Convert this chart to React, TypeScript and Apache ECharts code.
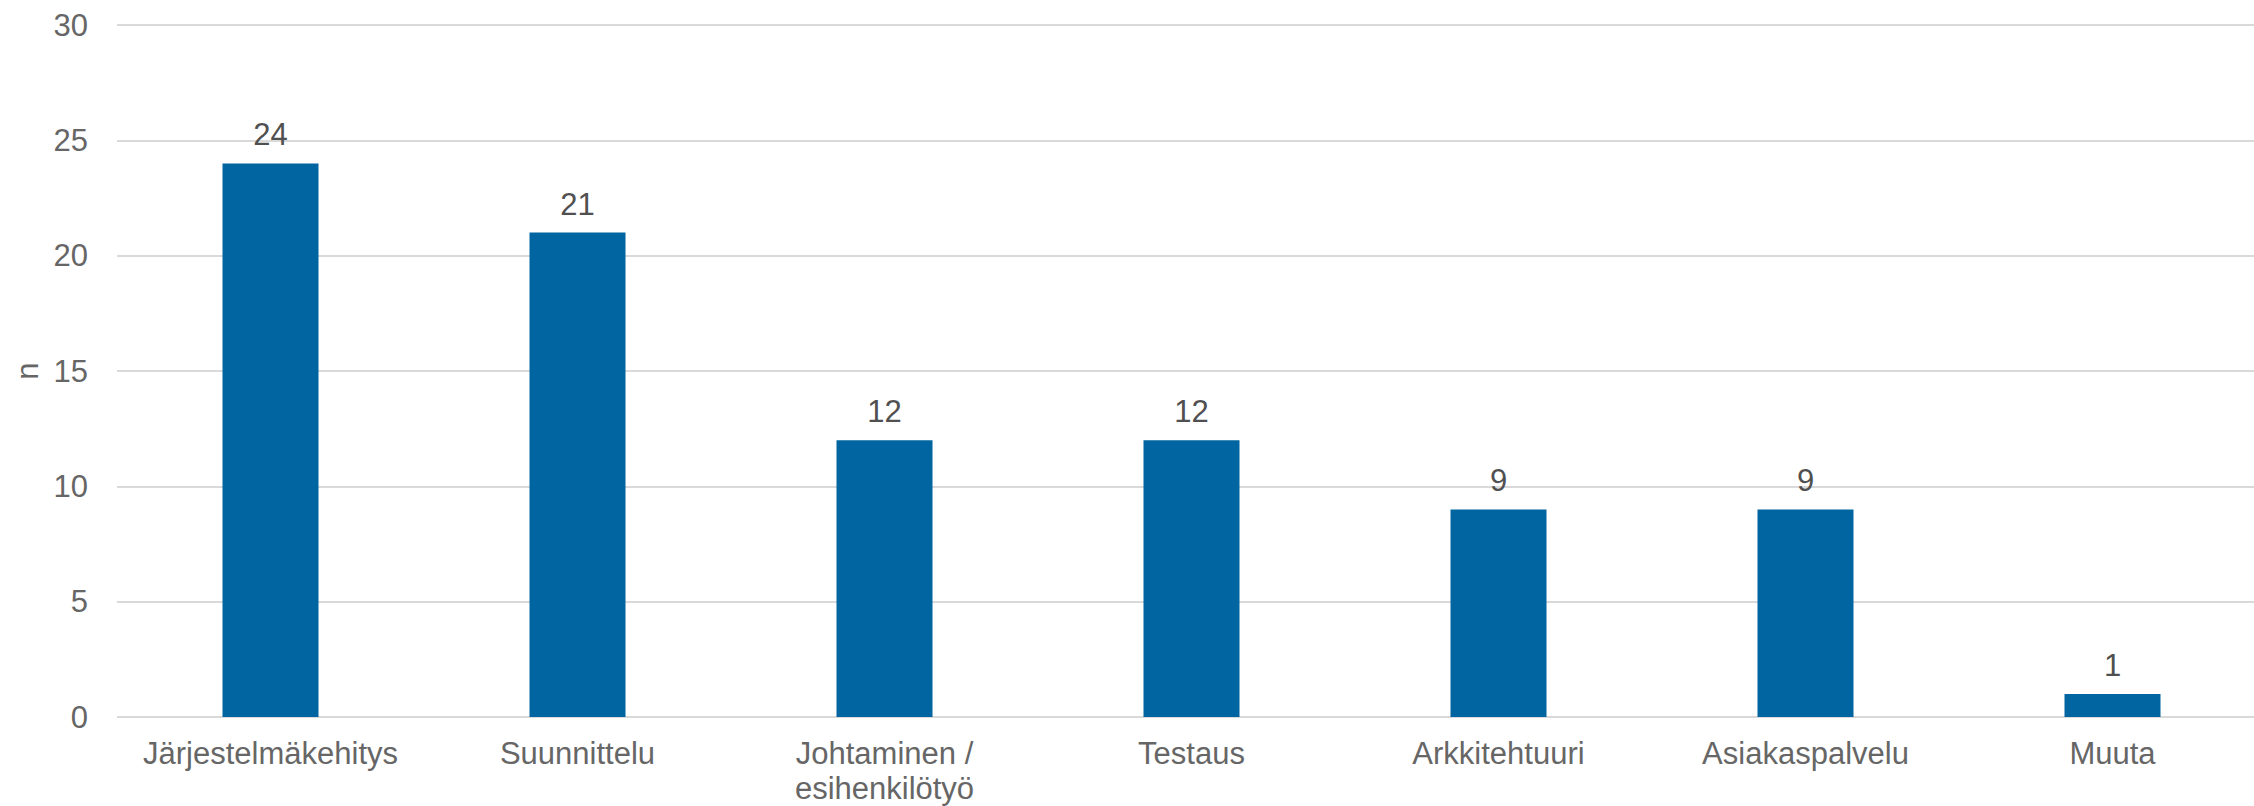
import React, { useEffect, useRef } from "react";
import * as echarts from "echarts";

const categories = [
  "Järjestelmäkehitys",
  "Suunnittelu",
  "Johtaminen /\nesihenkilötyö",
  "Testaus",
  "Arkkitehtuuri",
  "Asiakaspalvelu",
  "Muuta",
];
const values = [24, 21, 12, 12, 9, 9, 1];
const yAxisName = "n";

export default function App() {
  const ref = useRef<HTMLDivElement>(null);
  useEffect(() => {
    if (!ref.current) return;
    const chart = echarts.init(ref.current, null, { renderer: "svg" });
    const font = "Liberation Sans, Arial, sans-serif";
    chart.setOption({
      animation: false,
      backgroundColor: "#ffffff",
      grid: {
        left: 117,
        right: -12,
        top: 25,
        bottom: 89,
        containLabel: false,
        outerBoundsMode: "none",
      },
      xAxis: {
        type: "category",
        data: categories,
        axisLine: { show: false },
        axisTick: { show: false },
        axisLabel: {
          color: "#666666",
          fontSize: 31,
          fontFamily: font,
          margin: 19,
          lineHeight: 35,
          interval: 0,
        },
      },
      yAxis: {
        type: "value",
        min: 0,
        max: 30,
        interval: 5,
        name: yAxisName,
        nameLocation: "middle",
        nameRotate: 90,
        nameGap: 74,
        nameTextStyle: { color: "#666666", fontSize: 31, fontFamily: font },
        axisLine: { show: false },
        axisTick: { show: false },
        axisLabel: { color: "#666666", fontSize: 31, fontFamily: font, margin: 29 },
        splitLine: { lineStyle: { color: "#d9d9d9", width: 2 } },
      },
      series: [
        {
          type: "bar",
          data: values,
          barWidth: 96,
          itemStyle: { color: "#0065a0" },
          label: {
            show: true,
            position: "top",
            distance: 13,
            color: "#505050",
            fontSize: 31,
            fontFamily: font,
          },
        },
      ],
    });
    return () => chart.dispose();
  }, []);
  return (
    <div
      ref={ref}
      style={{ position: "fixed", left: 0, top: 0, width: 2254, height: 806 }}
    />
  );
}
